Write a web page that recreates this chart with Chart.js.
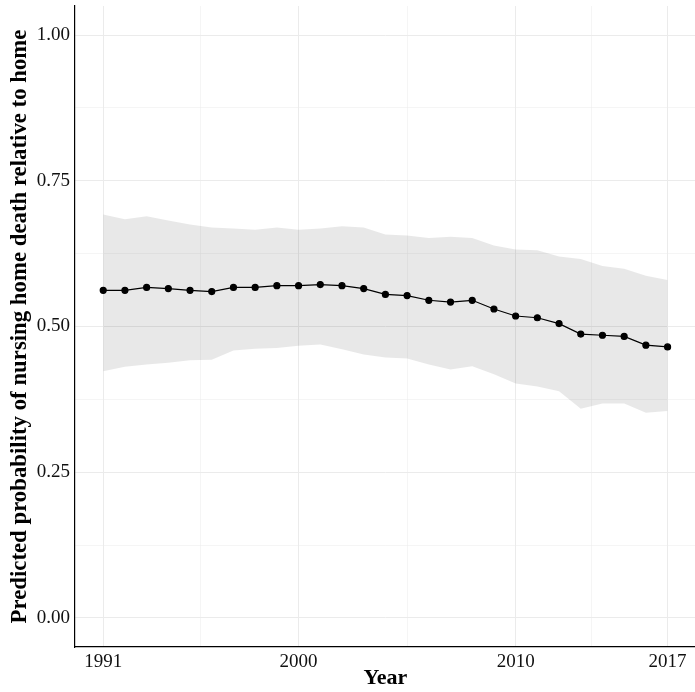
<!DOCTYPE html>
<html>
<head>
<meta charset="utf-8">
<script src="https://cdn.jsdelivr.net/npm/chart.js@4/dist/chart.umd.min.js"></script>
<style>
  html, body { margin: 0; padding: 0; background: #fff; overflow: hidden; }
  #wrap { width: 695px; height: 692px; overflow: hidden; }
</style>
</head>
<body>
<div id="wrap"><canvas id="chartCanvas" width="700" height="692"></canvas></div>
<script>
// data
const years = [1991, 1992, 1993, 1994, 1995, 1996, 1997, 1998, 1999, 2000, 2001, 2002, 2003, 2004,
               2005, 2006, 2007, 2008, 2009, 2010, 2011, 2012, 2013, 2014, 2015, 2016, 2017];
const predicted = [0.562, 0.562, 0.567, 0.565, 0.562, 0.560, 0.567, 0.567, 0.570, 0.570, 0.572, 0.570, 0.565, 0.555,
                   0.553, 0.545, 0.542, 0.545, 0.530, 0.518, 0.515, 0.505, 0.487, 0.485, 0.483, 0.468, 0.465];
const upper = [0.692, 0.684, 0.689, 0.682, 0.675, 0.670, 0.668, 0.666, 0.670, 0.666, 0.668, 0.672, 0.670, 0.658,
               0.656, 0.652, 0.654, 0.652, 0.639, 0.632, 0.631, 0.620, 0.616, 0.604, 0.599, 0.587, 0.580];
const lower = [0.423, 0.431, 0.435, 0.438, 0.442, 0.443, 0.459, 0.462, 0.463, 0.467, 0.469, 0.461, 0.452, 0.447,
               0.445, 0.435, 0.426, 0.432, 0.418, 0.402, 0.397, 0.389, 0.359, 0.368, 0.368, 0.352, 0.355];

const xMajor = [1991, 2000, 2010, 2017];
const xMinor = [1995.5, 2005, 2013.5];
const yMajor = [0, 0.25, 0.5, 0.75, 1];
const yMinor = [0.125, 0.375, 0.625, 0.875];

const toPts = arr => years.map((yr, i) => ({ x: yr, y: arr[i] }));

const font = "'Liberation Serif', 'Times New Roman', serif";

const gridColor = ctx => '#ebebeb';
const gridWidth = ctx => (ctx.tick && ctx.tick.major) ? 1 : 0.5;

const chart = new Chart(document.getElementById("chartCanvas").getContext("2d"), {
    type: "line",
    data: {
        datasets: [
            {
                label: "Predicted",
                data: toPts(predicted),
                borderColor: "#000",
                backgroundColor: "#000",
                borderWidth: 1.2,
                pointRadius: 3,
                pointHoverRadius: 3,
                fill: false,
                order: 0,
            },
            {
                label: "Upper",
                data: toPts(upper),
                borderWidth: 0,
                pointRadius: 0,
                backgroundColor: "rgba(0,0,0,0.09)",
                fill: "+1",
                order: 1,
            },
            {
                label: "Lower",
                data: toPts(lower),
                borderWidth: 0,
                pointRadius: 0,
                fill: false,
                order: 2,
            },
        ],
    },
    options: {
        responsive: false,
        animation: false,
        layout: { padding: { top: 6, right: 0, left: 0, bottom: 0 } },
        plugins: {
            legend: { display: false },
            tooltip: { enabled: false },
        },
        scales: {
            x: {
                type: "linear",
                min: 1989.7,
                max: 2018.3,
                afterBuildTicks: s => {
                    s.ticks = [...xMajor.map(v => ({ value: v, major: true })),
                               ...xMinor.map(v => ({ value: v, major: false }))]
                              .sort((a, b) => a.value - b.value);
                },
                afterFit: s => { s.height = 45; s.paddingLeft = 0; s.paddingRight = 0; },
                ticks: {
                    autoSkip: false,
                    maxRotation: 0,
                    padding: 4,
                    color: "#111",
                    font: { family: font, size: 19 },
                    callback: v => xMajor.includes(v) ? String(v) : "",
                },
                grid: { color: gridColor, lineWidth: gridWidth, drawTicks: false },
                border: { display: true, color: "#000", width: 1.2 },
                title: {
                    display: true,
                    text: "Year",
                    color: "#000",
                    padding: { top: 0, bottom: 0 },
                    font: { family: font, size: 22, weight: "bold" },
                },
            },
            y: {
                type: "linear",
                min: -0.05,
                max: 1.05,
                afterBuildTicks: s => {
                    s.ticks = [...yMajor.map(v => ({ value: v, major: true })),
                               ...yMinor.map(v => ({ value: v, major: false }))]
                              .sort((a, b) => a.value - b.value);
                },
                afterFit: s => { s.width = 75; s.paddingTop = 0; s.paddingBottom = 0; },
                ticks: {
                    autoSkip: false,
                    padding: 5,
                    color: "#111",
                    font: { family: font, size: 19 },
                    callback: v => yMajor.includes(v) ? v.toFixed(2) : "",
                },
                grid: { color: gridColor, lineWidth: gridWidth, drawTicks: false },
                border: { display: true, color: "#000", width: 1.2 },
                title: {
                    display: true,
                    text: "Predicted probability of nursing home death relative to home",
                    color: "#000",
                    padding: { top: 6, bottom: 0 },
                    font: { family: font, size: 22.8, weight: "bold" },
                },
            },
        },
    },
});
</script>
</body>
</html>
